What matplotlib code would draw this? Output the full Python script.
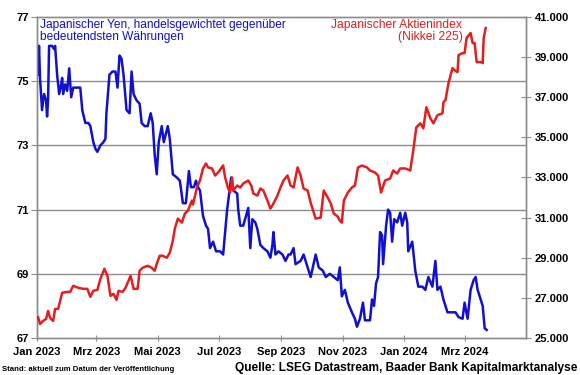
import numpy as np
import pandas as pd
import matplotlib
matplotlib.use('Agg')
import matplotlib.pyplot as plt

start = pd.Timestamp('2023-01-01')

# yen, trade weighted (left axis) -- days since 2023-01-01
yen_days = [1, 2, 3, 5, 7, 9, 10, 11, 12, 15, 17, 18, 20, 22, 24, 25, 26, 28, 30, 32,
	34, 36, 39, 43, 45, 48, 51, 53, 56, 58, 60, 63, 66, 68, 69, 72, 75, 78, 80, 82,
	84, 86, 89, 92, 94, 96, 99, 102, 104, 107, 110, 113, 115, 117, 119, 121, 124, 126, 130, 132,
	135, 139, 142, 145, 148, 151, 153, 156, 158, 160, 162, 165, 168, 170, 172, 175, 178, 182, 185, 187,
	189, 193, 195, 199, 200, 202, 205, 210, 212, 214, 217, 219, 222, 225, 229, 232, 234, 235, 237, 240,
	244, 247, 250, 252, 255, 257, 262, 265, 269, 272, 277, 280, 284, 287, 291, 295, 299, 301, 303, 306,
	309, 313, 316, 318, 321, 324, 326, 331, 333, 335, 337, 339, 341, 343, 344, 347, 349, 351, 353, 355,
	358, 361, 363, 366, 368, 369, 373, 376, 379, 383, 386, 389, 393, 396, 398, 401, 404, 408, 411, 416,
	419, 423, 425, 428, 431, 434, 436, 438, 441, 443, 445, 447]
yen_vals = [75.2, 76.1, 75.1, 74.1, 74.6, 74.4, 73.9, 74.4, 76.1, 76.1, 76.0, 76.1, 75.2, 74.6, 74.9, 75.1, 74.6, 74.9, 74.7, 75.4,
	74.5, 74.8, 74.8, 74.8, 74.1, 73.7, 73.7, 73.6, 73.1, 72.9, 72.8, 73.0, 73.1, 73.2, 74.0, 75.2, 75.3, 75.3, 74.8, 75.8,
	75.7, 75.2, 74.1, 74.0, 75.3, 74.6, 74.4, 74.3, 73.7, 73.6, 73.6, 74.0, 73.7, 72.7, 72.1, 73.1, 73.6, 73.1, 73.6, 73.2,
	72.1, 72.0, 71.9, 71.2, 71.2, 72.2, 71.7, 71.7, 71.9, 71.7, 71.6, 70.8, 70.5, 70.4, 69.8, 70.0, 69.7, 69.7, 69.6, 70.3,
	71.0, 72.0, 71.6, 71.5, 71.0, 70.5, 70.5, 71.05, 69.8, 70.7, 70.6, 70.4, 69.9, 69.8, 69.7, 69.5, 69.9, 70.3, 69.6, 69.7,
	69.6, 69.4, 69.6, 69.6, 69.8, 69.3, 69.4, 69.6, 69.2, 68.9, 69.6, 69.2, 69.1, 68.9, 69.0, 68.9, 68.8, 69.2, 68.3, 68.5,
	68.1, 67.8, 67.6, 67.35, 67.6, 68.1, 67.55, 67.55, 68.2, 68.0, 68.7, 68.9, 70.3, 70.2, 69.3, 70.5, 71.0, 70.9, 70.0, 70.7,
	70.6, 70.9, 70.5, 70.9, 70.6, 69.7, 70.0, 69.1, 68.6, 68.6, 68.5, 68.9, 68.6, 69.4, 68.5, 68.6, 68.2, 67.8, 67.8, 67.8,
	67.65, 67.6, 68.1, 67.6, 68.5, 68.8, 68.9, 68.5, 68.2, 68.0, 67.3, 67.25]

# Nikkei 225 (right axis)
nik_days = [0, 1, 3, 6, 9, 11, 13, 16, 18, 21, 25, 30, 33, 36, 41, 46, 50, 53, 56, 60,
	63, 67, 70, 73, 76, 79, 81, 85, 88, 93, 96, 100, 102, 105, 110, 114, 117, 119, 122, 125,
	129, 132, 135, 137, 140, 144, 147, 150, 154, 155, 159, 162, 165, 168, 170, 174, 177, 180, 185, 187,
	190, 192, 194, 195, 199, 202, 205, 210, 213, 215, 219, 222, 225, 229, 232, 235, 239, 242, 245, 249,
	252, 255, 259, 262, 265, 269, 272, 277, 282, 285, 289, 292, 295, 299, 301, 303, 305, 309, 313, 316,
	319, 323, 328, 331, 336, 339, 342, 346, 351, 354, 358, 361, 366, 371, 374, 377, 381, 384, 387, 391,
	394, 398, 403, 404, 406, 409, 413, 415, 418, 419, 423, 425, 427, 431, 433, 435, 437, 441, 443, 444,
	446]
nik_vals = [26000, 26050, 25700, 25850, 25950, 26350, 26000, 25850, 26450, 26450, 27250, 27300, 27300, 27600, 27500, 27450, 27450, 27050, 27350, 27400,
	27950, 28450, 28100, 27100, 27200, 26900, 27350, 27300, 27500, 28100, 27450, 27450, 28350, 28500, 28600, 28500, 28350, 28700, 29100, 29100,
	29000, 29250, 29850, 30450, 30950, 30750, 31200, 31350, 31850, 31650, 32500, 32850, 33450, 33700, 33500, 33450, 33100, 33250, 33600, 33000,
	32450, 32250, 33000, 32350, 32600, 32500, 32700, 32850, 32600, 32200, 32100, 32450, 32350, 31850, 31450, 31700, 32100, 32500, 32850, 33100,
	32600, 32500, 33500, 33100, 32450, 32350, 31750, 30950, 31000, 32350, 32000, 31700, 31200, 31050, 30850, 30750, 31850, 32250, 32500, 32600,
	33500, 33600, 33500, 33350, 33250, 33100, 32250, 32850, 32950, 33350, 33200, 33450, 33450, 33350, 34350, 35500, 35700, 35450, 36500, 35950,
	35700, 36100, 36200, 36750, 36850, 37700, 38450, 38350, 38250, 39100, 39200, 39200, 39950, 40200, 39700, 39700, 38750, 38750, 38700, 39950,
	40450]

tick_dates = ['2023-01-01', '2023-03-01', '2023-05-01', '2023-07-01', '2023-09-01',
	'2023-11-01', '2024-01-01', '2024-03-01']
tick_labels = ['Jan 2023', 'Mrz 2023', 'Mai 2023', 'Jul 2023', 'Sep 2023',
	'Nov 2023', 'Jan 2024', 'Mrz 2024']
left_ticks = [67, 69, 71, 73, 75, 77]
right_ticks = [25000, 27000, 29000, 31000, 33000, 35000, 37000, 39000, 41000]

plt.rcParams['font.family'] = ['Liberation Sans', 'DejaVu Sans']
grey = '#8c8c8c'
blue = '#1010d0'
red = '#e41e1e'


def to_dates(days):
	return start + pd.to_timedelta(days, unit='D')


def make_chart():
	fig = plt.figure(figsize=(5.8, 3.75), dpi=100)
	ax = fig.add_axes([0.0638, 0.0987, 0.843, 0.856])
	ax2 = ax.twinx()

	ax.plot(to_dates(yen_days), yen_vals, color=blue, lw=1.8, zorder=3)
	ax2.plot(to_dates(nik_days), nik_vals, color=red, lw=1.8, zorder=3)

	ax.set_xlim(pd.Timestamp('2023-01-01'), pd.Timestamp('2024-05-01'))
	ax.set_ylim(67, 77)
	ax2.set_ylim(25000, 41000)

	ax.set_xticks(pd.to_datetime(tick_dates))
	ax.set_xticklabels(tick_labels, fontsize=8, fontweight='bold')
	ax.set_yticks(left_ticks)
	ax.set_yticklabels([str(v) for v in left_ticks], fontsize=8, fontweight='bold')
	ax2.set_yticks(right_ticks)
	ax2.set_yticklabels(['{:,.0f}'.format(v).replace(',', '.') for v in right_ticks],
		fontsize=8, fontweight='bold')

	for v in left_ticks[1:-1]:
		ax.axhline(v, color=grey, lw=1.0, zorder=1)

	for a in (ax, ax2):
		for s in a.spines.values():
			s.set_color(grey)
			s.set_linewidth(1.0)
	ax.tick_params(axis='y', direction='out', length=4, color=grey, pad=2)
	ax.tick_params(axis='x', direction='inout', length=5, color=grey, pad=4)
	ax2.tick_params(axis='y', direction='inout', length=7, color=grey, pad=3)

	ax.text(0.006, 0.995, 'Japanischer Yen, handelsgewichtet gegenüber\nbedeutendsten Währungen',
		transform=ax.transAxes, ha='left', va='top', color=blue, fontsize=8.6,
		linespacing=1.0, zorder=5)
	ax.text(0.87, 0.995, 'Japanischer Aktienindex\n(Nikkei 225)',
		transform=ax.transAxes, ha='right', va='top', color=red, fontsize=8.7,
		linespacing=1.0, multialignment='right', zorder=5)

	fig.text(0.004, 0.006, 'Stand: aktuell zum Datum der Veröffentlichung',
		fontsize=5.6, fontweight='bold', ha='left', va='bottom')
	fig.text(0.995, 0.003, 'Quelle: LSEG Datastream, Baader Bank Kapitalmarktanalyse',
		fontsize=8.6, fontweight='bold', ha='right', va='bottom')

	fig.savefig('out.png', dpi=100)


if __name__ == '__main__':
	make_chart()
